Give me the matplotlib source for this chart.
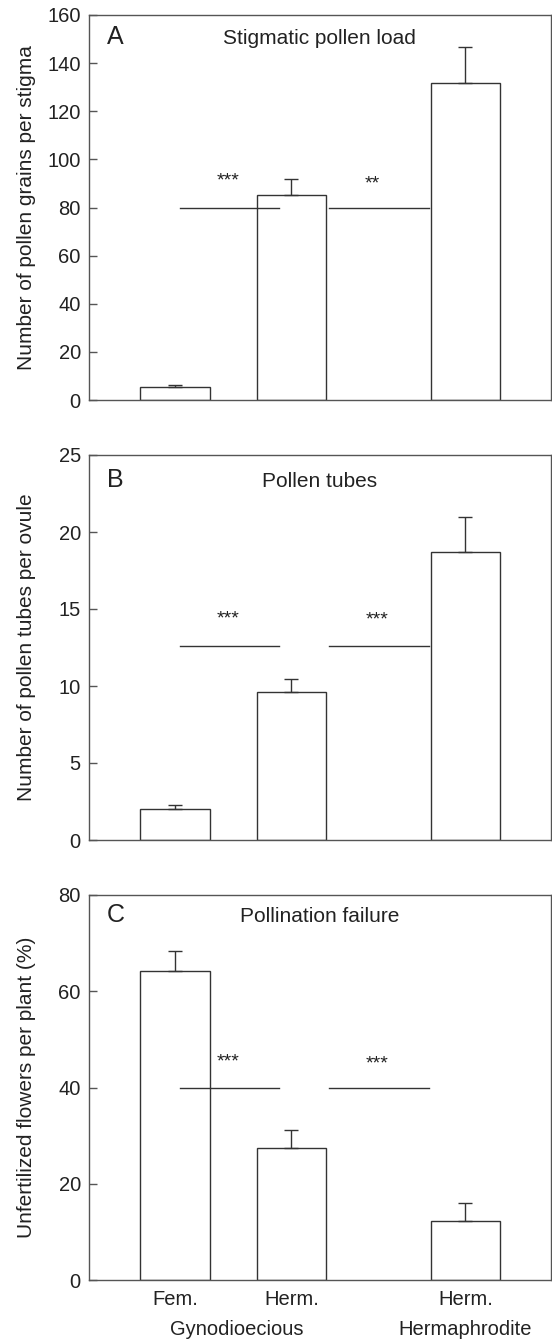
import matplotlib
matplotlib.use("Agg")
import matplotlib.pyplot as plt
import matplotlib.transforms as mtransforms

plt.rcParams['font.family'] = ['Liberation Sans', 'DejaVu Sans']

# ---- data ----
groups = ["Fem.", "Herm.", "Herm."]
populations = ["Gynodioecious", "Hermaphrodite"]

pollen_load = [5.6, 85.2, 131.6]
pollen_load_se = [0.7, 6.7, 15.2]

pollen_tubes = [2.03, 9.63, 18.7]
pollen_tubes_se = [0.26, 0.8, 2.3]

poll_failure = [64.3, 27.5, 12.3]
poll_failure_se = [4.1, 3.7, 3.8]

sig_a = ["***", "**"]
sig_b = ["***", "***"]
sig_c = ["***", "***"]
sig_level_a = 80
sig_level_b = 12.6
sig_level_c = 40

panel_titles = ["Stigmatic pollen load", "Pollen tubes", "Pollination failure"]
panel_letters = ["A", "B", "C"]
ylabels = ["Number of pollen grains per stigma",
           "Number of pollen tubes per ovule",
           "Unfertilized flowers per plant (%)"]

# ---- layout ----
W, H = 552, 1340
fig = plt.figure(figsize=(W / 100, H / 100), dpi=100)

xpos = [1.0, 2.0, 3.5]
left_px, right_px = 88.5, 551.0
axes_tb = [(15, 400), (455, 840), (895, 1280)]

edge = "#333333"
spine_c = "#555555"
txt_c = "#222222"
FS = 14.5
FS_T = 15

panels = [
    (pollen_load, pollen_load_se, sig_a, sig_level_a, (0, 160, 20), (89.0, 88.1)),
    (pollen_tubes, pollen_tubes_se, sig_b, sig_level_b, (0, 25, 5), (14.08, 13.98)),
    (poll_failure, poll_failure_se, sig_c, sig_level_c, (0, 80, 20), (44.4, 44.0)),
]

star_x = [(1.455, 2.696), (1.455, 2.736), (1.455, 2.736)]
title_base = [0.925, 0.918, 0.931]

for i, (vals, se, sigs, siglev, (y0, y1, ystep), star_y) in enumerate(panels):
    top, bot = axes_tb[i]
    ax = fig.add_axes([left_px / W, 1 - bot / H, (right_px - left_px) / W, (bot - top) / H])
    ax.bar(xpos, vals, width=0.6, color="white", edgecolor=edge, linewidth=1.0, zorder=2)
    ax.errorbar(xpos, vals, yerr=[[0] * len(se), se], fmt="none", ecolor=edge,
                elinewidth=1.0, capsize=4.8, capthick=1.0, zorder=3)
    # significance lines
    ax.plot([1.04, 1.894], [siglev, siglev], color=edge, lw=1.0, zorder=4)
    ax.plot([2.327, 3.183], [siglev, siglev], color=edge, lw=1.0, zorder=4)
    ax.text(star_x[i][0], star_y[0], sigs[0], ha="center", va="baseline", fontsize=14, color=txt_c)
    ax.text(star_x[i][1], star_y[1], sigs[1], ha="center", va="baseline", fontsize=14, color=txt_c)

    ax.set_xlim(0.252, 4.237)
    ax.set_ylim(y0, y1)
    ax.set_yticks(list(range(y0, y1 + 1, ystep)))
    ax.tick_params(axis="y", direction="in", length=6, width=1.0, color=spine_c,
                   labelsize=FS, labelcolor=txt_c, pad=5.5)
    for s in ax.spines.values():
        s.set_color(spine_c)
        s.set_linewidth(1.0)

    if i == 2:
        ax.set_xticks(xpos)
        ax.set_xticklabels(groups, fontsize=FS, color=txt_c)
        ax.tick_params(axis="x", length=0, pad=7.5)
        trans = mtransforms.blended_transform_factory(ax.transData, ax.transAxes)
        ax.text(1.53, -0.143, populations[0], transform=trans, ha="center", va="baseline",
                fontsize=FS, color=txt_c)
        ax.text(3.5, -0.143, populations[1], transform=trans, ha="center", va="baseline",
                fontsize=FS, color=txt_c)
    else:
        ax.set_xticks([])

    ax.text(0.039, title_base[i], panel_letters[i], transform=ax.transAxes, ha="left",
            va="baseline", fontsize=18, color=txt_c)
    ax.text(0.5, title_base[i], panel_titles[i], transform=ax.transAxes, ha="center",
            va="baseline", fontsize=FS_T, color=txt_c)

    fig.text(26.5 / W, 1 - (top + bot) / 2 / H, ylabels[i], rotation=90, ha="center",
             va="center", fontsize=FS_T, color=txt_c)

fig.savefig("out.png", dpi=100)
